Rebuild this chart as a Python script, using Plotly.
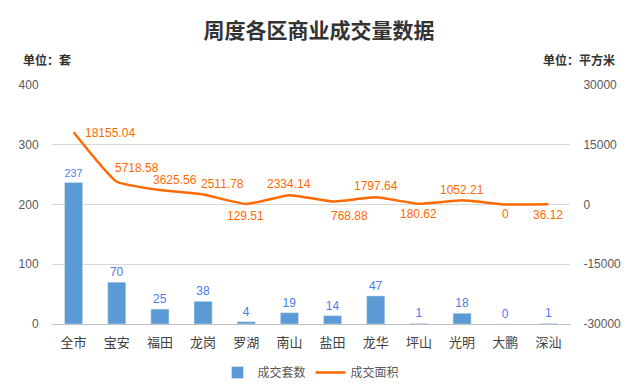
import plotly.graph_objects as go

categories = ["全市", "宝安", "福田", "龙岗", "罗湖", "南山", "盐田", "龙华", "坪山", "光明", "大鹏", "深汕"]
units = [237, 70, 25, 38, 4, 19, 14, 47, 1, 18, 0, 1]
area = [18155.04, 5718.58, 3625.56, 2511.78, 129.51, 2334.14, 768.88, 1797.64, 180.62, 1052.21, 0, 36.12]
area_labels = ["18155.04", "5718.58", "3625.56", "2511.78", "129.51", "2334.14", "768.88", "1797.64", "180.62", "1052.21", "0", "36.12"]
left_ticks = [0, 100, 200, 300, 400]
right_ticks = [-30000, -15000, 0, 15000, 30000]
right_ticktext = ["-30000", "-15000", "0", "15000", "30000"]

# label offsets (pixels) for the area labels, style only
label_dx = [36, 20, 15, 19, -1, 0, 17, 0, 0, 0, 0, 0]
label_dy = [-1, 14, 10, 10, -12, 11, -15, 11, -10, 10, -9, -11]

font_fam = "Noto Sans CJK SC, sans-serif"
num_font = "Liberation Sans, Arial, sans-serif"

fig = go.Figure()
fig.add_trace(go.Bar(
    x=categories, y=units, name="成交套数",
    marker=dict(color="#5B9BD5"),
    width=0.42,
    text=[str(v) for v in units], textposition="outside",
    textfont=dict(color="#4A7CF0", size=12, family=num_font),
    cliponaxis=False,
))
fig.add_trace(go.Scatter(
    x=categories, y=area, name="成交面积", yaxis="y2",
    mode="lines",
    line=dict(color="#FF6A00", width=2.5, shape="spline", smoothing=0.4),
    cliponaxis=False,
))

for c, v, t, dx, dy in zip(categories, area, area_labels, label_dx, label_dy):
    fig.add_annotation(x=c, y=v, xref="x", yref="y2", text=t, showarrow=False,
                       xanchor="center", yanchor="middle", xshift=dx, yshift=dy,
                       font=dict(color="#FF6A00", size=12, family=num_font))

# page body has an 8px margin, so the figure is sized/offset accordingly
fig.update_layout(
    width=622, height=379,
    margin=dict(l=44, r=60, t=77, b=63, autoexpand=False),
    paper_bgcolor="white", plot_bgcolor="white",
    font=dict(family=font_fam, color="#595959", size=12),
    title=dict(text="<b>周度各区商业成交量数据</b>", x=0.5, xanchor="center",
               yref="container", y=0.94, yanchor="middle",
               font=dict(size=21, color="#333333", family=font_fam)),
    showlegend=True,
    legend=dict(orientation="h", x=0.5, xanchor="center", yref="container", y=0.0, yanchor="bottom",
                font=dict(size=12, color="#595959"), itemwidth=30),
    xaxis=dict(showgrid=False, showline=True, linecolor="#BFBFBF", linewidth=1,
               ticks="outside", ticklen=6, tickcolor="rgba(0,0,0,0)", automargin=False,
               tickfont=dict(size=13, color="#404040")),
    yaxis=dict(range=[0, 400], tickvals=left_ticks, showgrid=True, gridcolor="#D9D9D9",
               zeroline=False, ticks="outside", ticklen=10, tickcolor="rgba(0,0,0,0)", automargin=False,
               tickfont=dict(size=12, color="#595959", family=num_font)),
    yaxis2=dict(range=[-30000, 30000], tickvals=right_ticks, ticktext=right_ticktext,
                overlaying="y", side="right", automargin=False,
                showgrid=False, zeroline=False, ticks="outside", ticklen=10,
                tickcolor="rgba(0,0,0,0)", tickfont=dict(size=12, color="#595959", family=num_font)),
)
fig.add_annotation(text="<b>单位：套</b>", xref="paper", yref="paper", x=-0.06, y=1.105,
                   xanchor="left", yanchor="middle", showarrow=False,
                   font=dict(size=12, color="#333333"))
fig.add_annotation(text="<b>单位：平方米</b>", xref="paper", yref="paper", x=1.09, y=1.105,
                   xanchor="right", yanchor="middle", showarrow=False,
                   font=dict(size=12, color="#333333"))

fig.write_html("out.html")
